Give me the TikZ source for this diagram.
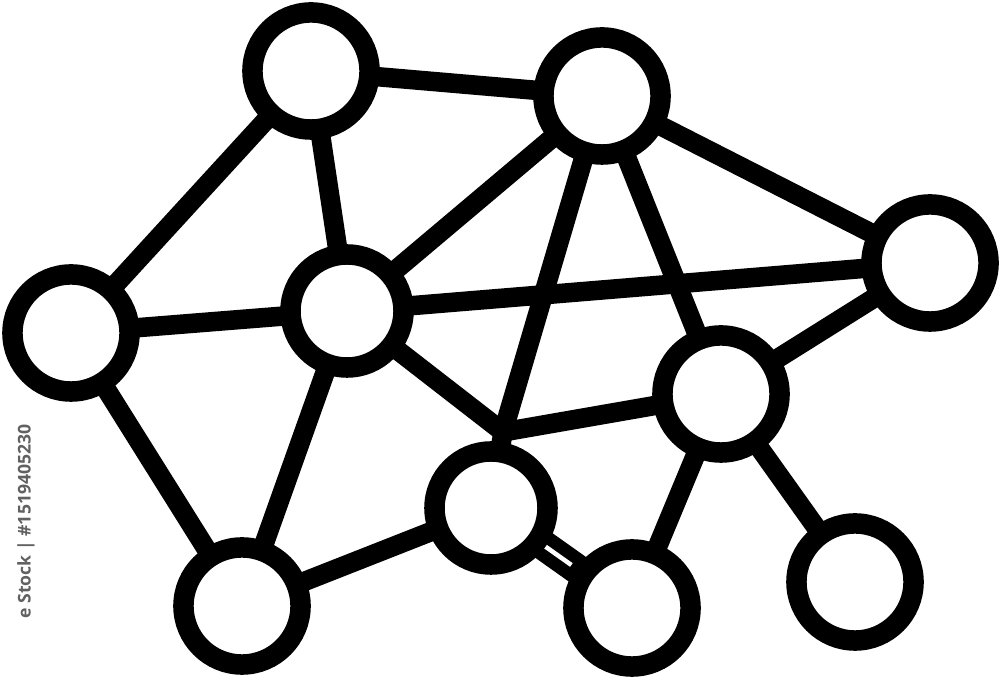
\documentclass[tikz,border=0pt]{standalone}
\usepackage{fontspec}
\newfontfamily\wmfont{Open Sans}
\usetikzlibrary{calc}
\pgfdeclarelayer{background}
\pgfsetlayers{background,main}
\begin{document}
\begin{tikzpicture}[x=0.01cm,y=-0.01cm,
  ring/.style={circle,draw=black,fill=white,line width=0.205cm,minimum size=1.17cm,inner sep=0pt,outer sep=0pt},
  smallring/.style={ring,minimum size=1.13cm},
  edge/.style={draw=black,line width=0.195cm},
  wmtext/.style={text=black!62,font=\wmfont\bfseries\fontsize{5}{6}\selectfont,rotate=90,inner sep=0pt}]
\useasboundingbox (0,0) rectangle (1000,677);
% nodes
\node[ring] (n1) at (311,71) {};
\node[ring] (n2) at (602,96) {};
\node[ring] (n3) at (930,263) {};
\node[ring] (n4) at (71,333) {};
\node[smallring] (n5) at (347,311) {};
\node[ring] (n6) at (721,394) {};
\node[smallring] (n7) at (491,508) {};
\node[ring] (n8) at (242,606) {};
\node[ring] (n9) at (632,608) {};
\node[ring] (n10) at (855,582) {};
\coordinate (j) at (503,432);
% connectors
\begin{pgfonlayer}{background}
\fill[white] (0,0) rectangle (1000,677);
\draw[edge] (n1.center) -- (n2.center);
\draw[edge] (n1.center) -- (n4.center);
\draw[edge] (n1.center) -- (n5.center);
\draw[edge] (n4.center) -- (n5.center);
\draw[edge] (n4.center) -- (n8.center);
\draw[edge] (n5.center) -- (n8.center);
\draw[edge] (n5.center) -- (n2.center);
\draw[edge] (n5.center) -- (n3.center);
\draw[edge] (n2.center) -- (n3.center);
\draw[edge] (n2.center) -- (n6.center);
\draw[edge] (n3.center) -- (n6.center);
\draw[edge] (n6.center) -- (n9.center);
\draw[edge] (n6.center) -- (n10.center);
\draw[edge] (n7.center) -- (n8.center);
\draw[edge,line cap=round] (n5.center) -- (j);
\draw[edge,line cap=round] (n2.center) -- (j);
\draw[edge,line cap=round] (n6.center) -- (j);
\draw[edge] (j) -- (n7.center);
\draw[edge,line width=0.3cm] (n7.center) -- (n9.center);
\draw[white,line width=0.045cm] ($(n7.center)!0.385!(n9.center)$) -- ($(n7.center)!0.57!(n9.center)$);
\end{pgfonlayer}
% side text
\node[wmtext,anchor=west] (wm) at (26,619) {e Stock | \#1519405230};
\end{tikzpicture}
\end{document}
